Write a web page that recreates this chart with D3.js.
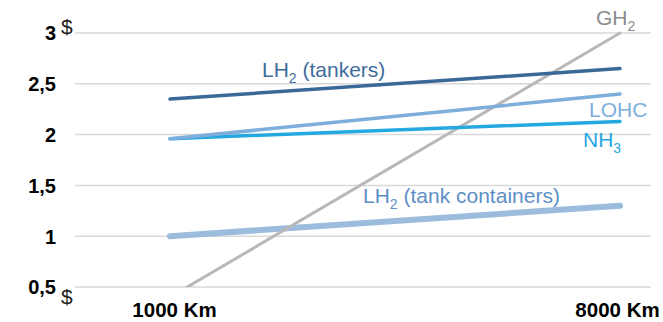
<!DOCTYPE html>
<html>
<head>
<meta charset="utf-8">
<script src="https://cdn.jsdelivr.net/npm/d3@7"></script>
<style>
  html, body { margin: 0; padding: 0; background: #fff; }
  svg { display: block; font-family: "Liberation Sans", Arial, sans-serif; }
</style>
</head>
<body>
<svg id="chart" width="663" height="322"></svg>
<script>
// Transport distances
const distances = ["1000 Km", "8000 Km"];

// Cost per kg of hydrogen delivered, by carrier
const seriesNames = ["GH2", "LH2 (tankers)", "LOHC", "NH3", "LH2 (tank containers)"];
const gh2 = [0.4, 3.0];
const lh2Tankers = [2.35, 2.65];
const lohc = [1.96, 2.4];
const nh3 = [1.96, 2.13];
const lh2Containers = [1.0, 1.3];

// Y axis ticks
const yTicks = [0.5, 1, 1.5, 2, 2.5, 3];
const yTickLabels = ["0,5", "1", "1,5", "2", "2,5", "3"];

const svg = d3.select("#chart");

const x = d3.scalePoint().domain(distances).range([170, 620]);
const y = d3.scaleLinear().domain([0.5, 3]).range([287, 33]);

// Horizontal gridlines
svg.append("g")
  .selectAll("line")
  .data(yTicks)
  .join("line")
  .attr("x1", 75).attr("x2", 651)
  .attr("y1", d => y(d)).attr("y2", d => y(d))
  .attr("stroke", "#d9d9d9")
  .attr("stroke-width", 1.5);

// Y axis labels
const yAxis = d3.axisLeft(y)
  .tickValues(yTicks)
  .tickFormat((d, i) => yTickLabels[i])
  .tickSize(0)
  .tickPadding(0);
const yg = svg.append("g").attr("transform", "translate(56,0)").call(yAxis);
yg.select(".domain").remove();
yg.selectAll("text")
  .attr("font-family", "Liberation Sans, Arial, sans-serif")
  .attr("font-size", 20)
  .attr("font-weight", "bold")
  .attr("fill", "#000")
  .attr("dy", "0.34em");

// Currency marks at the top and bottom of the axis
svg.append("text").attr("x", 61).attr("y", 34).text("$")
  .attr("font-size", 21).attr("fill", "#222");
svg.append("text").attr("x", 61).attr("y", 304).text("$")
  .attr("font-size", 21).attr("fill", "#222");

// X axis labels, nudged so the right one stays inside the frame
const xAxis = d3.axisBottom(x).tickSize(0).tickPadding(0);
const xg = svg.append("g").attr("transform", "translate(0,302)").call(xAxis);
xg.select(".domain").remove();
xg.selectAll("text")
  .attr("font-family", "Liberation Sans, Arial, sans-serif")
  .attr("font-size", 20.5)
  .attr("font-weight", "bold")
  .attr("fill", "#000")
  .attr("dx", (d, i) => (i === 0 ? 4 : -3));

// Plot clip so values below the axis minimum are cut at the bottom gridline
svg.append("clipPath").attr("id", "plot-clip")
  .append("rect").attr("x", 0).attr("y", 0).attr("width", 663).attr("height", y(0.5));

const series = [
  { name: seriesNames[4], values: lh2Containers, color: "#9bbcdd", width: 6 },
  { name: seriesNames[0], values: gh2, color: "#b8b8b8", width: 3 },
  { name: seriesNames[3], values: nh3, color: "#25a8e0", width: 3.5 },
  { name: seriesNames[2], values: lohc, color: "#7eaedb", width: 3.5 },
  { name: seriesNames[1], values: lh2Tankers, color: "#3a6897", width: 3.5 }
];

const line = d3.line()
  .x((d, i) => x(distances[i]))
  .y(d => y(d));

svg.append("g").attr("clip-path", "url(#plot-clip)")
  .selectAll("path")
  .data(series)
  .join("path")
  .attr("d", d => line(d.values))
  .attr("fill", "none")
  .attr("stroke", d => d.color)
  .attr("stroke-width", d => d.width)
  .attr("stroke-linecap", "round");

// Series labels with subscripts
function label(parts, xPos, yPos, color) {
  const t = svg.append("text")
    .attr("x", xPos).attr("y", yPos)
    .attr("font-size", 21)
    .attr("fill", color);
  parts.forEach(p => {
    const ts = t.append("tspan").text(p.t);
    if (p.sub) {
      ts.attr("font-size", 14).attr("dy", 6);
    } else if (p.after) {
      ts.attr("dy", -6);
    }
  });
}

label([{ t: "GH" }, { t: "2", sub: true }], 596, 25, "#8c8c8c");
label([{ t: "LH" }, { t: "2", sub: true }, { t: " (tankers)", after: true }], 262, 77, "#3f6c9b");
label([{ t: "LOHC" }], 589, 117, "#7eaedb");
label([{ t: "NH" }, { t: "3", sub: true }], 583, 147, "#27a7e0");
label([{ t: "LH" }, { t: "2", sub: true }, { t: " (tank containers)", after: true }], 363, 203, "#5d8fc6");
</script>
</body>
</html>
